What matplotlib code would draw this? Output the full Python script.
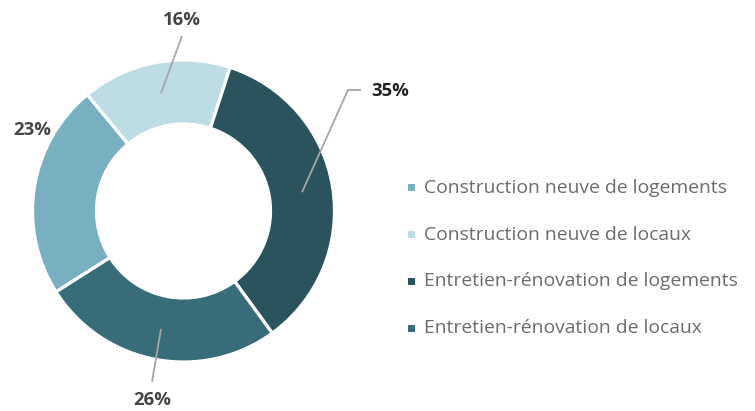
import numpy as np
import matplotlib.pyplot as plt

categories = ["Construction neuve de logements", "Construction neuve de locaux",
              "Entretien-rénovation de logements", "Entretien-rénovation de locaux"]
shares = [23, 16, 35, 26]
colors = ["#78b0c1", "#bedce3", "#2b535d", "#386c79"]

W, H = 755, 411
plt.rcParams['font.family'] = ['Open Sans', 'DejaVu Sans']

fig = plt.figure(figsize=(W / 100, H / 100), dpi=100)
ax = fig.add_axes([0, 0, 1, 1])

cx, cy, R = 183.5, H - 211, 151
wedges, _ = ax.pie(shares, colors=colors, center=(cx, cy), radius=R,
                   startangle=212.4, counterclock=False, frame=True,
                   wedgeprops=dict(width=64, edgecolor='white', linewidth=2.3))
ax.set_xlim(0, W)
ax.set_ylim(0, H)
ax.set_aspect('equal')
ax.axis('off')

# labels: (text position, leader path after start point) in pixel coords (y from top)
label_spec = {
    0: dict(text=(32, 130), path=None, color="#444444"),
    1: dict(text=(182, 20), path=[(182, 36)], color="#444444"),
    2: dict(text=(390, 91), path=[(348, 90), (361, 90)], color="#222222"),
    3: dict(text=(152, 400), path=[(152, 382)], color="#444444"),
}
for i, w in enumerate(wedges):
    spec = label_spec[i]
    mid = np.deg2rad((w.theta1 + w.theta2) / 2)
    if spec["path"]:
        xs = [cx + 120 * np.cos(mid)] + [p[0] for p in spec["path"]]
        ys = [cy + 120 * np.sin(mid)] + [H - p[1] for p in spec["path"]]
        ax.plot(xs, ys, color="#a6a6a6", lw=1.3, solid_capstyle='butt')
    tx, ty = spec["text"]
    ax.text(tx, H - ty, f"{shares[i]}%", ha='center', va='center',
            fontsize=13.3, fontweight='bold', fontstretch='normal',
            color=spec["color"])

# legend
for i, name in enumerate(categories):
    y = H - (188 + i * 46.7)
    ax.add_patch(plt.Rectangle((407.5, y - 3.5), 7, 7, color=colors[i], lw=0))
    ax.text(424, y, name, ha='left', va='center', fontsize=13.85, color="#6b6b6b")

fig.savefig("out.png", dpi=100)
